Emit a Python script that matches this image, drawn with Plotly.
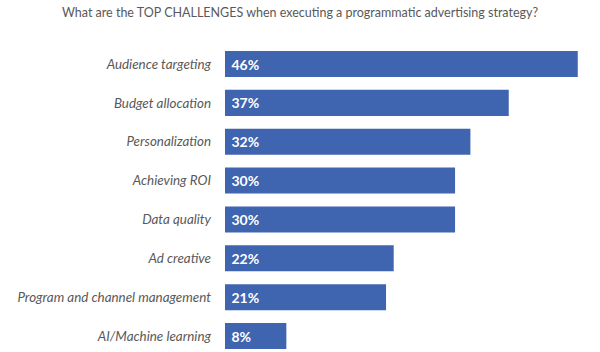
import plotly.graph_objects as go

categories = ["Audience targeting", "Budget allocation", "Personalization", "Achieving ROI",
              "Data quality", "Ad creative", "Program and channel management", "AI/Machine learning"]
values = [46, 37, 32, 30, 30, 22, 21, 8]
labels = [f"\u00a0{v}%" for v in values]
title = "What are the TOP CHALLENGES when executing a programmatic advertising strategy?"

fig = go.Figure(go.Bar(
    x=values, y=categories, orientation="h",
    marker=dict(color="#4065B0", line=dict(width=0)),
    width=0.67,
    text=labels, textposition="inside", insidetextanchor="start",
    textfont=dict(family="Lato", size=14, color="white", weight="bold"),
    cliponaxis=False,
))

fig.update_layout(
    width=600, height=352,
    margin=dict(l=225, r=0, t=45, b=0),
    paper_bgcolor="white", plot_bgcolor="white",
    showlegend=False,
    title=dict(text=title, x=0.5, xanchor="center", y=1 - 13 / 352, yanchor="middle",
               font=dict(family="Lato", size=12.5, color="#595959")),
    xaxis=dict(range=[0, 48.9], visible=False, fixedrange=True),
    yaxis=dict(type="category", range=[7.411, -0.489], showgrid=False, zeroline=False,
               showline=False, ticks="", ticklabelstandoff=13,
               tickfont=dict(family="Lato", size=13.4, color="#595959", style="italic")),
    uniformtext=dict(mode=False),
)

fig.write_html("out.html")
